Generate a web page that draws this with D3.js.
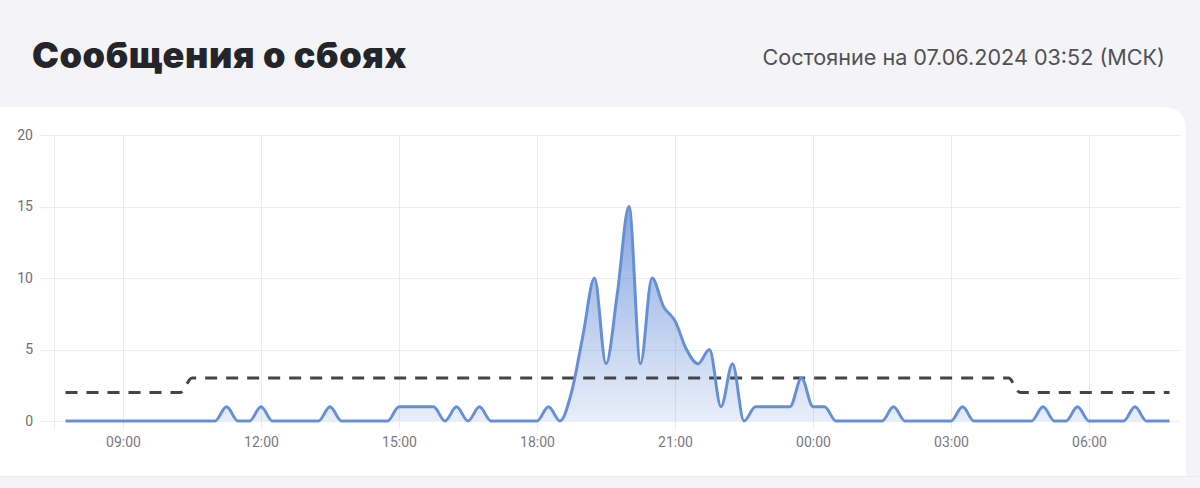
<!DOCTYPE html>
<html>
<head>
<meta charset="utf-8">
<script src="https://cdn.jsdelivr.net/npm/d3@7"></script>
<style>
  html, body { margin: 0; padding: 0; background: #f4f4f7; }
  svg { display: block; }
</style>
</head>
<body>
<div id="chart"></div>
<script>
// 15-minute samples, 06.06 07:45 .. 07.06 07:45
var times = [
  "07:45","08:00","08:15","08:30","08:45","09:00","09:15","09:30",
  "09:45","10:00","10:15","10:30","10:45","11:00","11:15","11:30",
  "11:45","12:00","12:15","12:30","12:45","13:00","13:15","13:30",
  "13:45","14:00","14:15","14:30","14:45","15:00","15:15","15:30",
  "15:45","16:00","16:15","16:30","16:45","17:00","17:15","17:30",
  "17:45","18:00","18:15","18:30","18:45","19:00","19:15","19:30",
  "19:45","20:00","20:15","20:30","20:45","21:00","21:15","21:30",
  "21:45","22:00","22:15","22:30","22:45","23:00","23:15","23:30",
  "23:45","00:00","00:15","00:30","00:45","01:00","01:15","01:30",
  "01:45","02:00","02:15","02:30","02:45","03:00","03:15","03:30",
  "03:45","04:00","04:15","04:30","04:45","05:00","05:15","05:30",
  "05:45","06:00","06:15","06:30","06:45","07:00","07:15","07:30",
  "07:45"
];

// reports per interval
var failures = [
  0,0,0,0,0,0,0,0,
  0,0,0,0,0,0,1,0,
  0,1,0,0,0,0,0,1,
  0,0,0,0,0,1,1,1,
  1,0,1,0,1,0,0,0,
  0,0,1,0,2,6,10,4,
  9,15,4,10,8,7,5,4,
  5,1,4,0,1,1,1,1,
  3,1,1,0,0,0,0,0,
  1,0,0,0,0,0,1,0,
  0,0,0,0,0,1,0,0,
  1,0,0,0,0,1,0,0,
  0
];

// usual level (dashed)
var baseline = [
  2,2,2,2,2,2,2,2,
  2,2,2,3,3,3,3,3,
  3,3,3,3,3,3,3,3,
  3,3,3,3,3,3,3,3,
  3,3,3,3,3,3,3,3,
  3,3,3,3,3,3,3,3,
  3,3,3,3,3,3,3,3,
  3,3,3,3,3,3,3,3,
  3,3,3,3,3,3,3,3,
  3,3,3,3,3,3,3,3,
  3,3,3,2,2,2,2,2,
  2,2,2,2,2,2,2,2,
  2
];

var yTicks = [0, 5, 10, 15, 20];
var xTickLabels = ["09:00","12:00","15:00","18:00","21:00","00:00","03:00","06:00"];

var titleText = "Сообщения о сбоях";
var statusText = "Состояние на 07.06.2024 03:52 (МСК)";

// turn "HH:MM" labels into dates, rolling over to the next day after midnight
function toDates(labels) {
  var day = 0, prev = -1;
  return labels.map(function(s) {
    var p = s.split(":"), h = +p[0], m = +p[1];
    if (h < prev) day++;
    prev = h;
    return new Date(2024, 5, 6 + day, h, m);
  });
}

var dates = toDates(times);
var tickDates = toDates(xTickLabels);

var data = dates.map(function(d, i) {
  return { t: d, v: failures[i], b: baseline[i] };
});

var W = 1200, H = 488;
var plotLeft = 54, plotRight = 1181, plotTop = 135, plotBottom = 421;

var svg = d3.select("#chart").append("svg")
    .attr("width", W)
    .attr("height", H);

svg.append("rect")
    .attr("width", W).attr("height", H)
    .attr("fill", "#f4f4f7");

// card with rounded top corners
var cx0 = -30, cx1 = 1186, cy0 = 107, cy1 = 476, r = 24;
svg.append("path")
    .attr("d", "M" + cx0 + "," + cy1 + "V" + (cy0 + r) +
      "Q" + cx0 + "," + cy0 + " " + (cx0 + r) + "," + cy0 +
      "H" + (cx1 - r) + "Q" + cx1 + "," + cy0 + " " + cx1 + "," + (cy0 + r) +
      "V" + cy1 + "Z")
    .attr("fill", "#ffffff");
svg.append("line")
    .attr("x1", 0).attr("x2", W)
    .attr("y1", cy1 + 0.5).attr("y2", cy1 + 0.5)
    .attr("stroke", "#ececf0");

svg.append("text")
    .attr("x", 32).attr("y", 68)
    .attr("font-family", "Inter, 'Open Sans', sans-serif")
    .attr("font-weight", 900)
    .attr("font-size", 36)
    .attr("letter-spacing", 0.6)
    .attr("fill", "#24252a")
    .text(titleText);

svg.append("text")
    .attr("x", 1165).attr("y", 65)
    .attr("text-anchor", "end")
    .attr("font-family", "Inter, Roboto, sans-serif")
    .attr("font-size", 21.6)
    .attr("fill", "#505055")
    .text(statusText);

var x = d3.scaleTime()
    .domain([d3.timeMinute.offset(dates[0], -15), d3.timeMinute.offset(dates[dates.length - 1], 15)])
    .range([plotLeft, plotRight]);

var y = d3.scaleLinear()
    .domain([0, 20])
    .range([plotBottom, plotTop]);

// grid
var grid = svg.append("g").attr("shape-rendering", "crispEdges");

grid.selectAll(".hgrid")
    .data(yTicks)
    .enter().append("line")
    .attr("class", "hgrid")
    .attr("x1", plotLeft - 14).attr("x2", plotRight)
    .attr("y1", function(d) { return Math.round(y(d)) + 0.5; })
    .attr("y2", function(d) { return Math.round(y(d)) + 0.5; })
    .attr("stroke", "#ededf2");

grid.selectAll(".vgrid")
    .data([x.domain()[0]].concat(tickDates))
    .enter().append("line")
    .attr("class", "vgrid")
    .attr("x1", function(d) { return Math.round(x(d)) + 0.5; })
    .attr("x2", function(d) { return Math.round(x(d)) + 0.5; })
    .attr("y1", plotTop).attr("y2", plotBottom + 8)
    .attr("stroke", "#e9e9f0");

// axes (labels only)
var yAxis = svg.append("g")
    .attr("transform", "translate(" + (plotLeft - 21) + ",0)")
    .call(d3.axisLeft(y).tickValues(yTicks).tickSize(0).tickPadding(0));
yAxis.select(".domain").remove();
yAxis.selectAll("text")
    .attr("font-family", "Roboto, 'Open Sans', sans-serif")
    .attr("font-size", 14)
    .attr("fill", "#6e6e74");

var xAxis = svg.append("g")
    .attr("transform", "translate(0," + (plotBottom + 16) + ")")
    .call(d3.axisBottom(x).tickValues(tickDates).tickFormat(d3.timeFormat("%H:%M")).tickSize(0).tickPadding(0));
xAxis.select(".domain").remove();
xAxis.selectAll("text")
    .attr("font-family", "Roboto, 'Open Sans', sans-serif")
    .attr("font-size", 14)
    .attr("fill", "#7a7a80");

// fill gradient
var grad = svg.append("defs").append("linearGradient")
    .attr("id", "fillGrad")
    .attr("gradientUnits", "userSpaceOnUse")
    .attr("x1", 0).attr("x2", 0)
    .attr("y1", plotTop).attr("y2", plotBottom);
grad.append("stop").attr("offset", "0%").attr("stop-color", "#5f8ad6").attr("stop-opacity", 0.95);
grad.append("stop").attr("offset", "100%").attr("stop-color", "#5f8ad6").attr("stop-opacity", 0.14);

var area = d3.area()
    .curve(d3.curveMonotoneX)
    .x(function(d) { return x(d.t); })
    .y0(y(0))
    .y1(function(d) { return y(d.v); });

var line = d3.line()
    .curve(d3.curveMonotoneX)
    .x(function(d) { return x(d.t); })
    .y(function(d) { return y(d.v); });

var baseLine = d3.line()
    .curve(d3.curveMonotoneX)
    .x(function(d) { return x(d.t); })
    .y(function(d) { return y(d.b); });

svg.append("path")
    .datum(data)
    .attr("d", area)
    .attr("fill", "url(#fillGrad)");

svg.append("path")
    .datum(data)
    .attr("d", baseLine)
    .attr("fill", "none")
    .attr("stroke", "#454548")
    .attr("stroke-width", 3)
    .attr("stroke-dasharray", "12,9");

svg.append("path")
    .datum(data)
    .attr("d", line)
    .attr("fill", "none")
    .attr("stroke", "#6690d6")
    .attr("stroke-width", 3)
    .attr("stroke-linejoin", "round");
</script>
</body>
</html>
